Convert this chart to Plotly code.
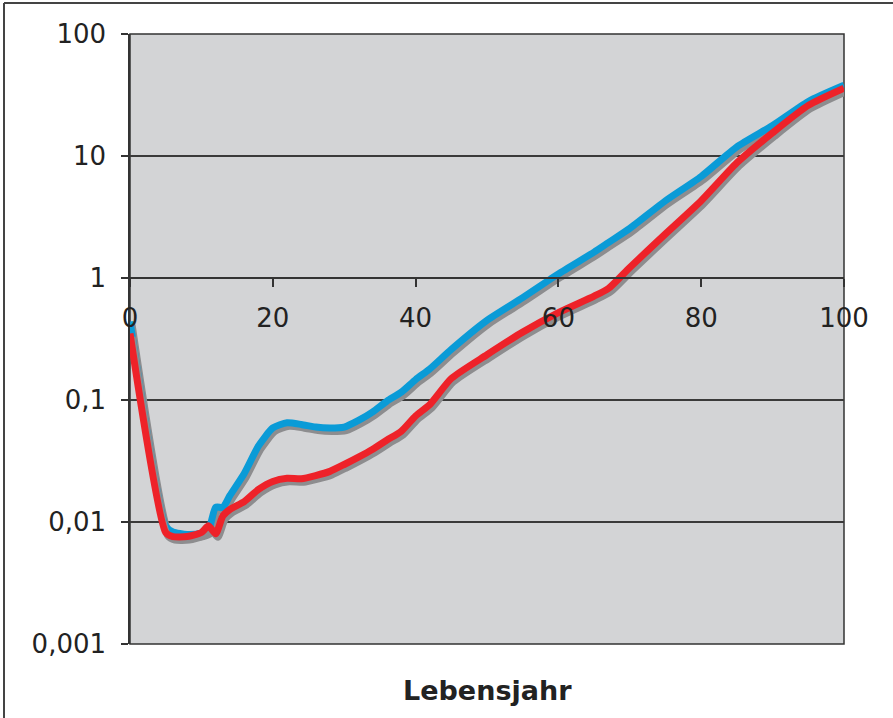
import plotly.graph_objects as go

# ---- data ----
ages = [0, 5, 6, 8, 10, 11, 12, 13, 14, 16, 18, 20, 22, 24, 26, 28, 30, 32, 34,
        36, 38, 40, 42, 45, 50, 55, 60, 65, 67, 70, 75, 80, 85, 90, 95, 100]

blue_values = [0.44, 0.0092, 0.0083, 0.0079, 0.0081, 0.0086, 0.0132, 0.0132, 0.0165,
               0.025, 0.042, 0.059, 0.065, 0.063, 0.060, 0.059, 0.060, 0.068, 0.080,
               0.098, 0.116, 0.147, 0.18, 0.26, 0.45, 0.69, 1.08, 1.63, 1.95, 2.55,
               4.3, 6.8, 11.9, 17.8, 28.0, 38.0]

red_values = [0.35, 0.0082, 0.0076, 0.0076, 0.0082, 0.0093, 0.0080, 0.0112, 0.0127,
              0.0147, 0.0185, 0.0215, 0.0228, 0.0226, 0.024, 0.026, 0.0296, 0.034,
              0.0395, 0.047, 0.0555, 0.074, 0.092, 0.15, 0.235, 0.36, 0.52, 0.71,
              0.82, 1.22, 2.3, 4.3, 8.8, 15.5, 26.0, 36.0]

x_tick_vals = [0, 20, 40, 60, 80, 100]
x_tick_text = ["0", "20", "40", "60", "80", "100"]
y_tick_vals = [0.001, 0.01, 0.1, 1, 10, 100]
y_tick_text = ["0,001", "0,01", "0,1", "1", "10", "100"]
x_title = "Lebensjahr"

# ---- styling ----
BLUE = "#0a9bd7"
RED = "#ee2229"
SHADOW = "#8d8d8f"
FONT = "DejaVu Sans"
LINE_W = 7
SHADOW_DX = 0.3                   # in years
SHADOW_FY = 10 ** (-3.5 / 122)    # ~3.5 px downward on the log axis

fig = go.Figure()

for vals, col in [(blue_values, BLUE), (red_values, RED)]:
    fig.add_trace(go.Scatter(
        x=[a + SHADOW_DX for a in ages], y=[v * SHADOW_FY for v in vals],
        mode="lines", line=dict(color=SHADOW, width=LINE_W, shape="spline", smoothing=0.6),
        hoverinfo="skip", showlegend=False))
    fig.add_trace(go.Scatter(
        x=ages, y=vals, mode="lines",
        line=dict(color=col, width=LINE_W, shape="spline", smoothing=0.6),
        showlegend=False))

L, R, T, B = 130, 49, 34, 74
W, H = 893, 718
pw, ph = W - L - R, H - T - B

fig.update_layout(
    width=W, height=H,
    margin=dict(l=L, r=R, t=T, b=B, pad=0),
    paper_bgcolor="white",
    plot_bgcolor="#d3d4d6",
    xaxis=dict(
        range=[0, 100], anchor="free", position=0.6,
        showgrid=False, zeroline=False,
        showline=True, linecolor="#333333", linewidth=1.5,
        ticks="outside", ticklen=8, tickwidth=1.5, tickcolor="#333333",
        tickvals=x_tick_vals, ticktext=x_tick_text,
        tickfont=dict(family=FONT, size=26, color="#222222"),
        ticklabelstandoff=9,
    ),
    yaxis=dict(
        type="log", range=[-3, 2],
        showgrid=True, gridcolor="#3a3a3a", gridwidth=1.5,
        zeroline=False,
        showline=True, linecolor="#333333", linewidth=1.5,
        ticks="outside", ticklen=7, tickwidth=1.5, tickcolor="#333333",
        tickvals=y_tick_vals, ticktext=y_tick_text,
        tickfont=dict(family=FONT, size=26, color="#222222"),
        ticklabelstandoff=10,
    ),
    shapes=[
        # plot-area frame
        dict(type="rect", xref="paper", yref="paper", x0=0, x1=1, y0=0, y1=1,
             line=dict(color="#333333", width=1.5), layer="below"),
        # outer chart border (left and top edges visible)
        dict(type="line", xref="paper", yref="paper",
             x0=(4 - L) / pw, x1=(4 - L) / pw,
             y0=-B / ph - 0.01, y1=(H - B - 3) / ph,
             line=dict(color="#444444", width=2)),
        dict(type="line", xref="paper", yref="paper",
             x0=(4 - L) / pw, x1=(W - L) / pw + 0.01,
             y0=(H - B - 3) / ph, y1=(H - B - 3) / ph,
             line=dict(color="#444444", width=2)),
    ],
    annotations=[
        dict(text="<b>%s</b>" % x_title, xref="paper", yref="paper",
             x=0.5, y=-(690 - (H - B)) / ph, xanchor="center", yanchor="middle",
             showarrow=False, font=dict(family=FONT, size=27, color="#222222")),
    ],
)

fig.write_html("out.html",
               config={"displayModeBar": False},
               post_script="document.body.style.margin='0';document.body.style.overflow='hidden';")
